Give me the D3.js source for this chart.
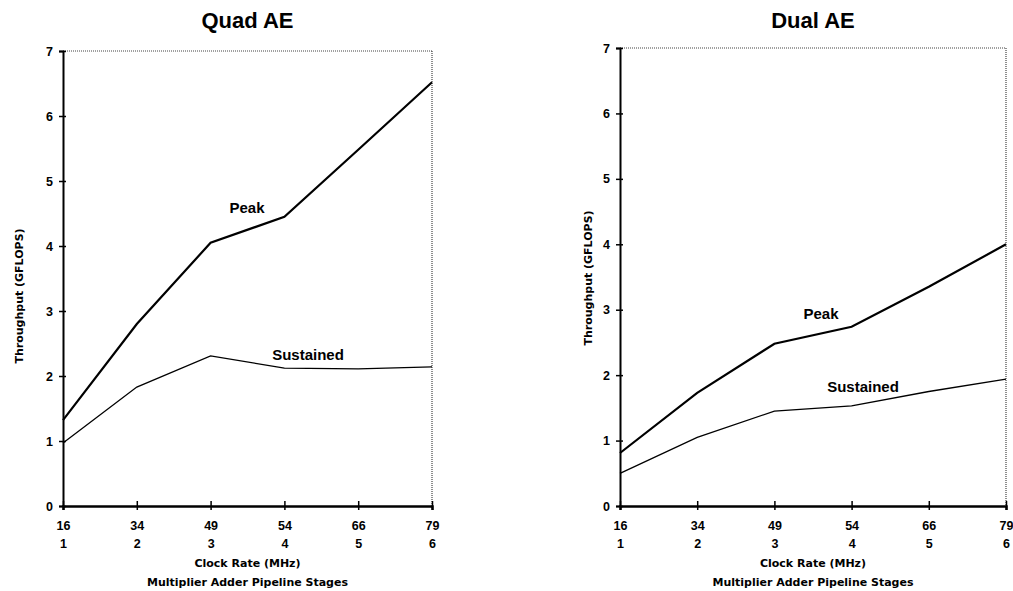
<!DOCTYPE html>
<html>
<head>
<meta charset="utf-8">
<script src="https://cdn.jsdelivr.net/npm/d3@7"></script>
<style>
  body { margin: 0; background: #fff; }
  svg { font-family: "Liberation Sans", Arial, sans-serif; font-weight: bold; }
  .axttl { font-family: "DejaVu Sans", sans-serif; font-weight: bold; }
</style>
</head>
<body>
<svg id="chart" width="1013" height="591"></svg>
<script>
// data
const clockRates = ["16", "34", "49", "54", "66", "79"];
const stages = ["1", "2", "3", "4", "5", "6"];
const yTicks = [0, 1, 2, 3, 4, 5, 6, 7];

const quadPeak = [1.32, 2.8, 4.05, 4.45, 5.48, 6.52];
const quadSustained = [0.97, 1.83, 2.31, 2.12, 2.11, 2.14];
const dualPeak = [0.81, 1.73, 2.48, 2.74, 3.35, 4.0];
const dualSustained = [0.5, 1.05, 1.45, 1.53, 1.75, 1.94];

const svg = d3.select("#chart");

function draw_panel(title, peak, sustained, left, right, top, bottom, peakLbl, susLbl, yLabel) {
  let g = svg.append("g");
  let xScale = d3.scalePoint().domain(d3.range(clockRates.length)).range([left, right]);
  let yScale = d3.scaleLinear().domain([0, 7]).range([bottom, top]);

  // frame top / right (dotted)
  g.append("line")
    .attr("x1", left).attr("x2", right).attr("y1", top).attr("y2", top)
    .attr("stroke", "#444").attr("stroke-width", 1.2).attr("stroke-dasharray", "1,1");
  g.append("line")
    .attr("x1", right).attr("x2", right).attr("y1", top).attr("y2", bottom)
    .attr("stroke", "#444").attr("stroke-width", 1.2).attr("stroke-dasharray", "1,1");

  // y axis
  let y_axis = d3.axisLeft(yScale).tickValues(yTicks).tickFormat(d3.format("d")).tickSize(4).tickPadding(6);
  let ya = g.append("g").attr("transform", `translate(${left},0)`).call(y_axis);
  ya.attr("font-family", null).attr("font-size", 12.5);
  ya.select(".domain").attr("stroke-width", 2);
  ya.selectAll(".tick line").attr("x2", 3).attr("x1", -4).attr("stroke-width", 1.5);

  // x axis
  let x_axis = d3.axisBottom(xScale).tickSize(4).tickFormat(i => clockRates[i]);
  let xa = g.append("g").attr("transform", `translate(0,${bottom})`).call(x_axis);
  xa.attr("font-family", null).attr("font-size", 12.5);
  xa.select(".domain").attr("stroke-width", 2.5);
  xa.selectAll(".tick line").attr("y1", -5).attr("y2", 4).attr("stroke-width", 1.5);
  xa.selectAll(".tick text").attr("y", 24).attr("dy", null);
  xa.selectAll(".tick")
    .append("text")
    .attr("fill", "#000")
    .attr("y", 42)
    .attr("text-anchor", "middle")
    .text(i => stages[i]);

  // lines
  let line = d3.line().x((d, i) => xScale(i)).y(d => yScale(d));
  g.append("path").datum(peak).attr("d", line)
    .attr("fill", "none").attr("stroke", "#000").attr("stroke-width", 2.2);
  g.append("path").datum(sustained).attr("d", line)
    .attr("fill", "none").attr("stroke", "#000").attr("stroke-width", 1.3);

  // series labels
  g.append("text").attr("x", peakLbl[0]).attr("y", peakLbl[1])
    .attr("text-anchor", "middle").attr("font-size", 15).text("Peak");
  g.append("text").attr("x", susLbl[0]).attr("y", susLbl[1])
    .attr("text-anchor", "middle").attr("font-size", 15).text("Sustained");

  // title
  g.append("text").attr("x", (left + right) / 2).attr("y", 28)
    .attr("text-anchor", "middle").attr("font-size", 22).text(title);

  // axis labels
  g.append("text").attr("class", "axttl").attr("x", (left + right) / 2).attr("y", bottom + 61)
    .attr("text-anchor", "middle").attr("font-size", 11).text("Clock Rate (MHz)");
  g.append("text").attr("class", "axttl").attr("x", (left + right) / 2).attr("y", bottom + 80)
    .attr("text-anchor", "middle").attr("font-size", 11).text("Multiplier Adder Pipeline Stages");
  g.append("g")
    .attr("transform", `translate(${yLabel[0]},${yLabel[1]}) rotate(270)`)
    .append("text").attr("class", "axttl").attr("text-anchor", "middle").attr("font-size", 11)
    .text("Throughput (GFLOPS)");
}

draw_panel("Quad AE", quadPeak, quadSustained, 63, 432, 51, 506, [247, 213], [308, 360], [23, 296]);
draw_panel("Dual AE", dualPeak, dualSustained, 620, 1006, 48, 506, [821, 319], [863, 392], [592, 278]);
</script>
</body>
</html>
